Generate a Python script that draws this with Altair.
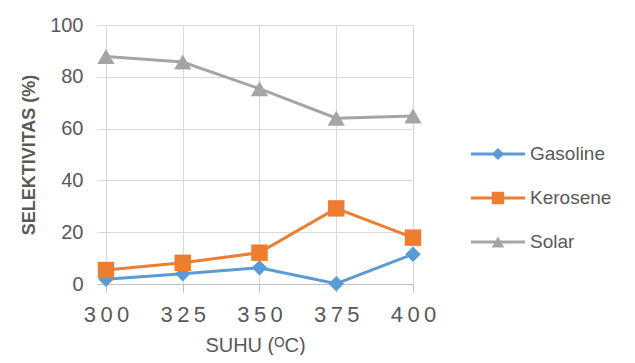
import altair as alt
import pandas as pd

# Temperature (°C) and selectivity (%) per product fraction
temps = [300, 325, 350, 375, 400]
gasoline = [1.8, 4.0, 6.3, 0.1, 11.5]
kerosene = [5.4, 8.2, 12.1, 29.2, 17.9]
solar = [87.8, 85.7, 75.4, 64.0, 64.9]

series = ["Gasoline", "Kerosene", "Solar"]
colors = ["#5B9BD5", "#ED7D31", "#A5A5A5"]
shapes = ["diamond", "square", "triangle-up"]
y_ticks = [0, 20, 40, 60, 80, 100]

FONT = "Liberation Sans"
TXT = "#595959"

rows = []
for name, vals in zip(series, [gasoline, kerosene, solar]):
    for t, v in zip(temps, vals):
        rows.append({"suhu": t, "selektivitas": v, "produk": name})
df = pd.DataFrame(rows)

color_scale = alt.Scale(domain=series, range=colors)
shape_scale = alt.Scale(domain=series, range=shapes)

x_enc = alt.X(
    "suhu:Q",
    scale=alt.Scale(domain=[297.07, 400], nice=False, zero=False),
    axis=alt.Axis(
        values=temps,
        title="SUHU (ᴼC)",
        titleFont=FONT,
        titleFontSize=20,
        titleFontWeight="normal",
        titleColor=TXT,
        titlePadding=10,
        labelFont=FONT,
        labelFontSize=22,
        labelColor=TXT,
        labelPadding=12,
        labelFlush=False,
        labelExpr="substring(datum.label,0,1)+'\u2009'+substring(datum.label,1,2)+'\u2009'+substring(datum.label,2,3)",
        tickSize=8,
        tickColor="#BFBFBF",
        domainColor="#BFBFBF",
        gridColor="#D9D9D9",
    ),
)
y_enc = alt.Y(
    "selektivitas:Q",
    scale=alt.Scale(domain=[0, 100], nice=False),
    axis=alt.Axis(
        values=y_ticks,
        title="SELEKTIVITAS (%)",
        titleFont=FONT,
        titleFontSize=18,
        titleFontWeight="bold",
        titleColor=TXT,
        titlePadding=11,
        labelFont=FONT,
        labelFontSize=20,
        labelColor=TXT,
        labelPadding=14,
        ticks=False,
        domain=False,
        gridColor="#D9D9D9",
    ),
)

lines = alt.Chart(df).mark_line(strokeWidth=3).encode(
    x=x_enc,
    y=y_enc,
    color=alt.Color("produk:N", scale=color_scale, legend=None),
    detail="produk:N",
)
points = alt.Chart(df).mark_point(filled=True, opacity=1).encode(
    x=x_enc,
    y=y_enc,
    color=alt.Color("produk:N", scale=color_scale, legend=None),
    shape=alt.Shape("produk:N", scale=shape_scale, legend=None),
    size=alt.Size(
        "produk:N",
        scale=alt.Scale(domain=series, range=[240, 300, 320]),
        legend=None,
    ),
)
main = (lines + points).properties(width=316, height=259)

# Key panel: line stub, marker and name for each fraction
key_df = pd.DataFrame({"produk": series})
key_y = alt.Y(
    "produk:N",
    scale=alt.Scale(type="point", domain=series, range=[129, 217], padding=0),
    axis=None,
)
key_color = alt.Color("produk:N", scale=color_scale, legend=None)
key_line = alt.Chart(key_df).mark_rule(strokeWidth=3).encode(
    x=alt.value(35), x2=alt.value(89), y=key_y, color=key_color
)
key_mark = alt.Chart(key_df).mark_point(filled=True, opacity=1).encode(
    x=alt.value(62),
    y=key_y,
    color=key_color,
    shape=alt.Shape("produk:N", scale=shape_scale, legend=None),
    size=alt.Size(
        "produk:N",
        scale=alt.Scale(domain=series, range=[150, 160, 190]),
        legend=None,
    ),
)
key_text = alt.Chart(key_df).mark_text(
    align="left", baseline="middle", font=FONT, fontSize=19, color=TXT
).encode(x=alt.value(94), y=key_y, text="produk:N")
key = (key_line + key_mark + key_text).properties(width=160, height=259)

chart = (
    alt.hconcat(main, key, spacing=0)
    .resolve_scale(color="independent", shape="independent", size="independent")
    .properties(
        padding={"left": 20, "top": 15, "right": 0, "bottom": 0},
        background="white",
    )
    .configure_view(strokeWidth=0, stroke="transparent")
)

chart.save("out.html", embed_options={"renderer": "svg", "actions": False})
